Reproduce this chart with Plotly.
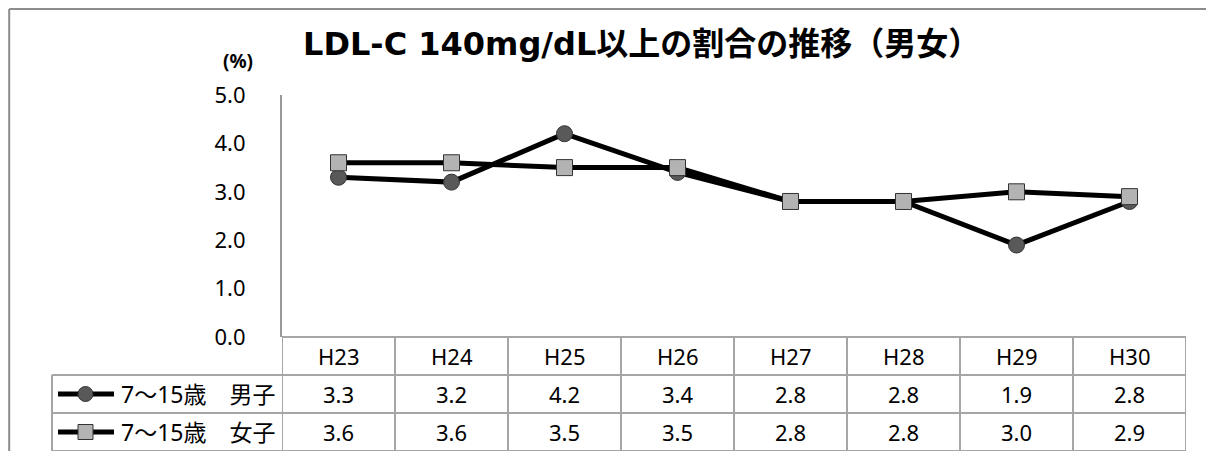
import plotly.graph_objects as go

# データ（H23〜H30、LDL-C 140mg/dL以上の割合 %）
years = ["H23", "H24", "H25", "H26", "H27", "H28", "H29", "H30"]
boys = [3.3, 3.2, 4.2, 3.4, 2.8, 2.8, 1.9, 2.8]
girls = [3.6, 3.6, 3.5, 3.5, 2.8, 2.8, 3.0, 2.9]
series_names = ["7～15歳　男子", "7～15歳　女子"]
y_ticks = [0, 1, 2, 3, 4, 5]

# ページの body 余白 (8px) を差し引いた図のサイズ
OFF = 8
W, H = 1214 - 2 * OFF, 459 - 2 * OFF
FONT = "Noto Sans, Noto Sans CJK JP"
GRID = "#a6a6a6"


def px(x):
    return (x - OFF) / W


def py(y):
    return 1 - (y - OFF) / H


# プロット領域（画面ピクセル）
X0, X1 = 282, 1186
Y_TOP, Y_AXIS = 95, 337
ROWS = [337, 375, 413, 451]
LEG_X = 52

fig = go.Figure()

fig.add_trace(go.Scatter(
    x=years, y=boys, mode="lines+markers", name=series_names[0],
    line=dict(color="black", width=5),
    marker=dict(symbol="circle", size=16, color="#595959",
                line=dict(color="#333333", width=1)),
))
fig.add_trace(go.Scatter(
    x=years, y=girls, mode="lines+markers", name=series_names[1],
    line=dict(color="black", width=5),
    marker=dict(symbol="square", size=16, color="#b3b3b3",
                line=dict(color="#333333", width=1)),
))

shapes = []
annotations = []

# 外枠（上・左）
shapes.append(dict(type="line", xref="paper", yref="paper",
                   x0=0.001, x1=1, y0=0.998, y1=0.998,
                   line=dict(color="#8c8c8c", width=2)))
shapes.append(dict(type="line", xref="paper", yref="paper",
                   x0=0.001, x1=0.001, y0=0.998, y1=0,
                   line=dict(color="#8c8c8c", width=2)))

# データテーブル：横線
shapes.append(dict(type="line", xref="paper", yref="paper",
                   x0=px(X0), x1=px(X1), y0=py(ROWS[0]), y1=py(ROWS[0]),
                   line=dict(color=GRID, width=2)))
for r in ROWS[1:]:
    shapes.append(dict(type="line", xref="paper", yref="paper",
                       x0=px(LEG_X), x1=px(X1), y0=py(r), y1=py(r),
                       line=dict(color=GRID, width=2)))
# 縦線
shapes.append(dict(type="line", xref="paper", yref="paper",
                   x0=px(LEG_X), x1=px(LEG_X), y0=py(ROWS[1]), y1=py(ROWS[3]),
                   line=dict(color=GRID, width=2)))
for i in range(len(years) + 1):
    shapes.append(dict(type="line", xref="x", yref="paper",
                       x0=i - 0.5, x1=i - 0.5, y0=py(ROWS[0]), y1=py(ROWS[3]),
                       line=dict(color=GRID, width=2)))

# 見出し行
for i, yr in enumerate(years):
    annotations.append(dict(x=i, y=py((ROWS[0] + ROWS[1]) / 2), xref="x", yref="paper",
                            yanchor="middle", text=yr, showarrow=False,
                            font=dict(size=22, color="black")))

# 値の行 + 凡例マーカー
for k, vals in enumerate([boys, girls]):
    yc = (ROWS[k + 1] + ROWS[k + 2]) / 2
    for i, v in enumerate(vals):
        annotations.append(dict(x=i, y=py(yc), xref="x", yref="paper",
                                yanchor="middle", text=f"{v:.1f}", showarrow=False,
                                font=dict(size=22, color="black")))
    annotations.append(dict(x=px(277), y=py(yc), xref="paper", yref="paper",
                            xanchor="right", yanchor="middle", text=series_names[k],
                            showarrow=False, font=dict(size=23, color="black")))
    shapes.append(dict(type="line", xref="paper", yref="paper",
                       x0=px(58), x1=px(114), y0=py(yc), y1=py(yc),
                       line=dict(color="black", width=5)))
    if k == 0:
        shapes.append(dict(type="circle", xref="paper", yref="paper",
                           x0=px(78), x1=px(93), y0=py(yc - 7.5), y1=py(yc + 7.5),
                           fillcolor="#595959", line=dict(color="#333333", width=1)))
    else:
        shapes.append(dict(type="rect", xref="paper", yref="paper",
                           x0=px(78), x1=px(93), y0=py(yc - 7.5), y1=py(yc + 7.5),
                           fillcolor="#b3b3b3", line=dict(color="#333333", width=1)))

# タイトルと単位
annotations.append(dict(x=px(641), y=py(44), xref="paper", yref="paper",
                        xanchor="center", yanchor="middle",
                        text="<b>LDL-C 140mg/dL以上の割合の推移（男女）</b>",
                        showarrow=False,
                        font=dict(family="DejaVu Sans, Noto Sans CJK JP", size=32,
                                  color="black")))
annotations.append(dict(x=px(238), y=py(61), xref="paper", yref="paper",
                        xanchor="center", yanchor="middle",
                        text="<b>(%)</b>", showarrow=False,
                        font=dict(size=19, color="black")))

fig.update_layout(
    width=W, height=H,
    margin=dict(l=0, r=0, t=0, b=0, autoexpand=False),
    paper_bgcolor="white", plot_bgcolor="white",
    font=dict(family=FONT, color="black"),
    showlegend=False,
    shapes=shapes,
    annotations=annotations,
    xaxis=dict(domain=[px(X0), px(X1)], range=[-0.5, len(years) - 0.5],
               showticklabels=False, showgrid=False, zeroline=False,
               showline=False, fixedrange=True, automargin=False),
    yaxis=dict(domain=[py(Y_AXIS), py(Y_TOP)], range=[0, 5],
               tickvals=y_ticks, tickformat=".1f", ticklabelstandoff=30,
               tickfont=dict(size=22, color="black"),
               showgrid=False, zeroline=False, showline=True,
               linecolor="#999999", linewidth=2, ticks="", fixedrange=True,
               automargin=False),
)

fig.write_html("out.html")
